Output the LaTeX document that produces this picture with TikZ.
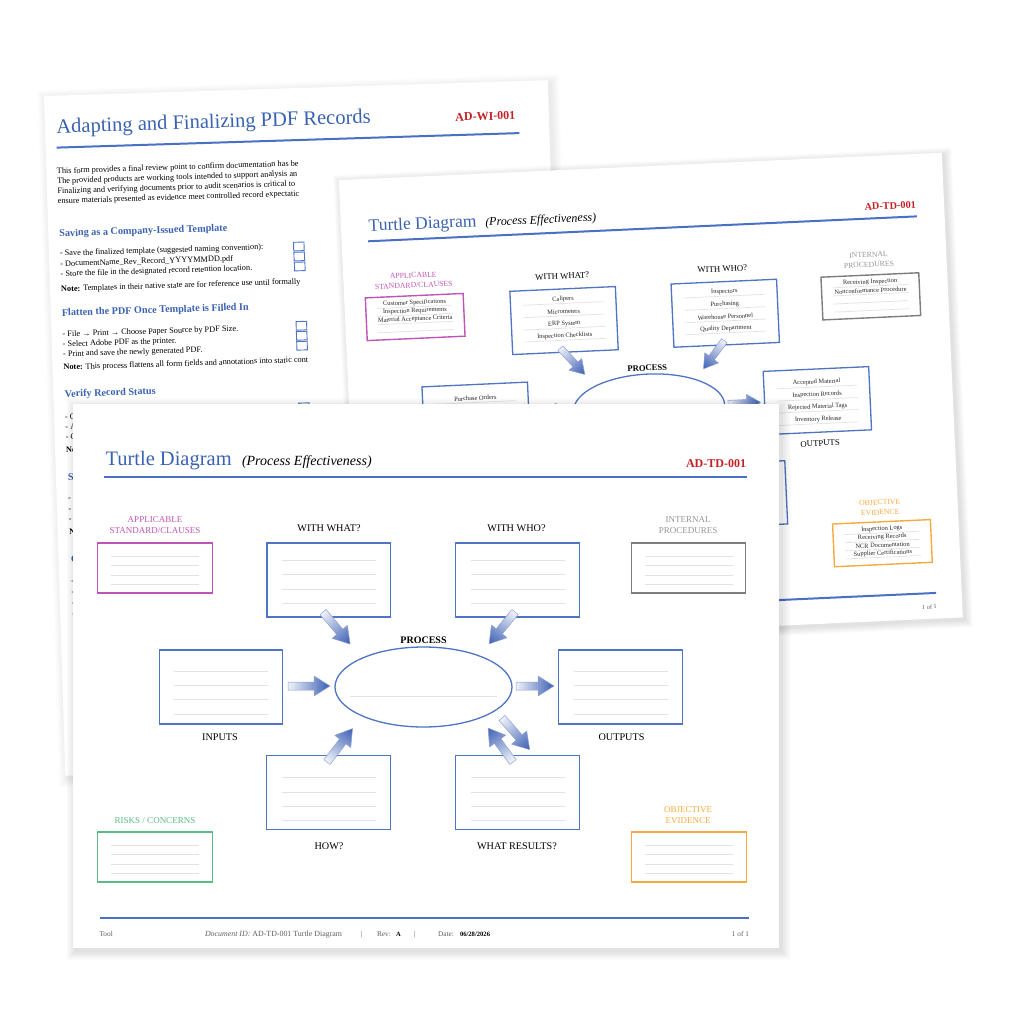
\documentclass[tikz,border=0pt]{standalone}
\usepackage{fontspec}
\setmainfont{Liberation Serif}
\usetikzlibrary{shapes.geometric}
\definecolor{tblue}{RGB}{58,98,178}
\definecolor{rblue}{RGB}{72,112,196}
\definecolor{bblue}{RGB}{78,116,194}
\definecolor{ablue}{RGB}{66,100,182}
\definecolor{mag}{RGB}{192,84,182}
\definecolor{gbox}{RGB}{125,125,125}
\definecolor{glab}{RGB}{150,150,150}
\definecolor{grn}{RGB}{92,186,132}
\definecolor{org}{RGB}{246,170,62}
\definecolor{dred}{RGB}{196,32,38}
\definecolor{lline}{RGB}{226,226,226}
\definecolor{ftxt}{RGB}{95,95,95}
\definecolor{itxt}{RGB}{40,40,40}
\tikzset{
  txt/.style={inner sep=0pt, outer sep=0pt},
  ttl/.style={txt, text=tblue, font=\fontsize{20.5}{24}\selectfont},
  subt/.style={txt, font=\fontsize{14}{16}\selectfont\itshape},
  docid/.style={txt, text=dred, font=\fontsize{12}{14}\selectfont\bfseries},
  lab/.style={txt, font=\fontsize{10.2}{12}\selectfont},
  clab/.style={txt, align=center, font=\fontsize{9}{11.6}\selectfont},
  bbox/.style={draw=bblue, line width=1.3pt, minimum width=123.5pt, minimum height=74pt, inner sep=0pt},
  sbox/.style={draw=#1, line width=1.4pt, minimum width=114.5pt, minimum height=50pt, inner sep=0pt},
  rline/.style={lline, line width=0.7pt},
  item/.style={txt, text=itxt, font=\fontsize{7.5}{9}\selectfont},
  ftr/.style={txt, anchor=base west, text=ftxt, font=\fontsize{7.3}{9}\selectfont},
  wtxt/.style={txt, anchor=base west, font=\fontsize{8.3}{10}\selectfont},
  whead/.style={txt, anchor=base west, text=tblue, font=\fontsize{10.2}{12}\selectfont\bfseries},
  cbox/.style={draw=bblue, line width=0.9pt, minimum width=10.5pt, minimum height=8.6pt, inner sep=0pt},
  pics/fatarrow/.style={code={
    \begin{scope}
      \clip (0,-4) -- (#1-16,-4) -- (#1-16,-10) -- (#1,0) -- (#1-16,10) -- (#1-16,4) -- (0,4) -- cycle;
      \foreach \i in {0,...,23}{
        \pgfmathtruncatemacro\cc{8+92*\i/23}
        \fill[ablue!\cc!white] ({\i*#1/24-0.3},-11) rectangle ({(\i+1)*#1/24+0.3},11);
      }
    \end{scope}
    \draw[ablue!60, line width=0.5pt, line join=round] (0,-4) -- (#1-16,-4) -- (#1-16,-10) -- (#1,0) -- (#1-16,10) -- (#1-16,4) -- (0,4) -- cycle;
  }}
}
\newcommand\pageshadow[5]{%
  \foreach \k in {1,...,10}{
    \fill[black, opacity=#5] (#1-0.9*\k+2.5, #2-0.9*\k+3) rectangle (#3+0.9*\k+2.5, #4+0.9*\k+3);
  }}
\newcommand\hrules[3]{\foreach \yy in {#3}{\draw[rline] (#1,\yy) -- (#2,\yy);}}
% the turtle template, in front-page coordinates; #1 = name prefix
\newcommand\turtlepage[1]{%
  \node[ttl, anchor=base west] (#1title) at (105.5,465.5) {Turtle Diagram};
  \node[subt, anchor=base west] (#1sub) at (242,465.5) {(Process Effectiveness)};
  \node[docid, anchor=base east] (#1id) at (746,467) {AD-TD-001};
  \draw[rblue, line width=2pt] (104,477) -- (746.5,477);
  % labels
  \node[clab, text=mag] (#1appl) at (155,525) {APPLICABLE\\STANDARD/CLAUSES};
  \node[lab] (#1wwl) at (329,528) {WITH WHAT?};
  \node[lab] (#1wol) at (516.5,528) {WITH WHO?};
  \node[clab, text=glab] (#1ipl) at (688,525) {INTERNAL\\PROCEDURES};
  \node[lab, font=\fontsize{10}{12}\selectfont\bfseries] (#1prl) at (423.5,640) {PROCESS};
  \node[lab] (#1inl) at (220,737.5) {INPUTS};
  \node[lab] (#1outl) at (621.5,737) {OUTPUTS};
  \node[lab] (#1howl) at (329,846.5) {HOW?};
  \node[lab] (#1resl) at (517,846.5) {WHAT RESULTS?};
  \node[clab, text=grn] (#1rkl) at (155,821) {RISKS / CONCERNS};
  \node[clab, text=org] (#1oel) at (688,815) {OBJECTIVE\\EVIDENCE};
  % boxes
  \node[sbox=mag] (#1app) at (155,568) {};
  \node[bbox] (#1ww) at (328.75,580) {};
  \node[bbox] (#1wo) at (517.5,580) {};
  \node[sbox=gbox] (#1ip) at (688.5,568) {};
  \node[bbox] (#1in) at (221,687) {};
  \node[draw=bblue, line width=1.3pt, ellipse, minimum width=177pt, minimum height=80pt, inner sep=0pt] (#1pr) at (423.5,687) {};
  \node[bbox] (#1out) at (620.5,687) {};
  \node[bbox] (#1how) at (328.5,792.5) {};
  \node[bbox] (#1res) at (517.5,792.5) {};
  \node[sbox=grn] (#1rk) at (155,857) {};
  \node[sbox=org] (#1oe) at (689,857) {};
  % ruled lines
  \hrules{111}{199}{556,565.5,575,584.5}
  \hrules{281.75}{375.75}{560,574.5,589,603}
  \hrules{470.5}{564.5}{560,574.5,589,603}
  \hrules{644.5}{732.5}{556,565.5,575,584.5}
  \hrules{174}{268}{671,685.5,699.5,714}
  \hrules{573.5}{667.5}{671,685.5,699.5,714}
  \hrules{281.5}{375.5}{777.5,792,806,820.5}
  \hrules{470.5}{564.5}{777.5,792,806,820.5}
  \hrules{111}{199}{845,854.5,864,873.5}
  \hrules{645}{733}{845,854.5,864,873.5}
  \draw[rline] (350,696) -- (497,696);
  % fat arrows
  \pic[rotate=-49.8] at (323,612) {fatarrow=42};
  \pic[rotate=-129.1] at (515,612) {fatarrow=41};
  \pic at (288,686) {fatarrow=42};
  \pic at (516,686) {fatarrow=38};
  \pic[rotate=52.6] at (327,762) {fatarrow=42};
  \pic[rotate=-48.8] at (502,718) {fatarrow=42};
  \pic[rotate=126.3] at (513,762) {fatarrow=42};
  % footer rule
  \draw[rblue, line width=2pt] (99.5,918) -- (749,918);
  \node[ftr, anchor=base east] (#1pg) at (749,936.5) {1 of 1};
}
\begin{document}
\begin{tikzpicture}[x=1pt,y=-1pt]
\useasboundingbox (0,0) rectangle (1024,1024);
\fill[white] (0,0) rectangle (1024,1024);

% ---------------- back page: work instruction ----------------
\begin{scope}[shift={(44,96)}, rotate=1.8, transform shape]
  \pageshadow{0}{0}{504}{680}{0.007}
  \fill[white] (0,0) rectangle (504,680);
  \node[ttl, anchor=base west] (wtitle) at (11.5,37.5) {Adapting and Finalizing PDF Records};
  \node[docid, anchor=base east] (wid) at (470.5,38) {AD-WI-001};
  \draw[rblue, line width=2pt] (11,52) -- (474,52);
  \begin{scope}
    \clip (0,60) rectangle (261,680);
    \node[wtxt] (b1) at (10.5,78) {This form provides a final review point to confirm documentation has be};
    \node[wtxt] (b2) at (10.5,88) {The provided products are working tools intended to support analysis an};
    \node[wtxt] (b3) at (10.5,98) {Finalizing and verifying documents prior to audit scenarios is critical to};
    \node[wtxt] (b4) at (10.5,108) {ensure materials presented as evidence meet controlled record expectatic};
    \node[wtxt] (s1) at (11,160.4) {- Save the finalized template (suggested naming convention):};
    \node[wtxt] (s2) at (11,170.9) {- DocumentName\_Rev\_Record\_YYYYMMDD.pdf};
    \node[wtxt] (s3) at (11,180.9) {- Store the file in the designated record retention location.};
    \node[wtxt] (n1) at (11,196) {\textbf{Note:} Templates in their native state are for reference use until formally};
    \node[wtxt] (f1) at (11,241.2) {- File → Print → Choose Paper Source by PDF Size.};
    \node[wtxt] (f2) at (11,251.2) {- Select Adobe PDF as the printer.};
    \node[wtxt] (f3) at (11,261.2) {- Print and save the newly generated PDF.};
    \node[wtxt] (n2) at (11,274.4) {\textbf{Note:} This process flattens all form fields and annotations into static cont};
    \node[wtxt] (v1) at (11,324) {- C};
    \node[wtxt] (v2) at (11,334) {- A};
    \node[wtxt] (v3) at (11,344) {- C};
    \node[wtxt] (v4) at (11,357.2) {\textbf{No}};
    \node[wtxt] (x1) at (11.5,405.3) {-};
    \node[wtxt] (x2) at (11.5,416) {-};
    \node[wtxt] (x3) at (11.5,426) {-};
    \node[wtxt] (x4) at (11.5,439) {\textbf{N}};
    \node[wtxt] (y1) at (12,488.3) {-};
    \node[wtxt] (y2) at (12,499.3) {-};
    \node[wtxt] (y3) at (12,510) {-};
    \node[wtxt] (y4) at (12,521) {-};
  \end{scope}
  \node[whead] (h1) at (11,141) {Saving as a Company-Issued Template};
  \node[whead] (h2) at (11.1,220.5) {Flatten the PDF Once Template is Filled In};
  \node[whead] (h3) at (11.5,301.8) {Verify Record Status};
  \node[whead] (h4) at (12,385) {S};
  \node[whead] (h5) at (12.5,467.6) {C};
  \node[cbox] (c1) at (250,158.4) {};
  \node[cbox] (c2) at (250.1,168.4) {};
  \node[cbox] (c3) at (250.3,178.4) {};
  \node[cbox] (c4) at (250.1,237.7) {};
  \node[cbox] (c5) at (250.1,247.7) {};
  \node[cbox] (c6) at (250.1,257.7) {};
  \node[cbox] (c7) at (250.1,319.3) {};
\end{scope}

% ---------------- middle page: filled turtle diagram ----------------
\begin{scope}[shift={(368.8,225)}, rotate=2.6, scale=0.855, shift={(-105.7,-458)}, transform shape]
  \pageshadow{73}{404}{779}{948}{0.011}
  \fill[white] (73,404) rectangle (779,948);
  \turtlepage{m}
  \node[item] (m-a1) at (155,551.5) {Customer Specifications};
  \node[item] (m-a2) at (155,561) {Inspection Requirements};
  \node[item] (m-a3) at (155,570.5) {Material Acceptance Criteria};
  \node[item] (m-w1) at (328.75,555) {Calipers};
  \node[item] (m-w2) at (328.75,569.5) {Micrometers};
  \node[item] (m-w3) at (328.75,584) {ERP System};
  \node[item] (m-w4) at (328.75,598) {Inspection Checklists};
  \node[item] (m-o1) at (517.5,555) {Inspectors};
  \node[item] (m-o2) at (517.5,569.5) {Purchasing};
  \node[item] (m-o3) at (517.5,584) {Warehouse Personnel};
  \node[item] (m-o4) at (517.5,598) {Quality Department};
  \node[item] (m-p1) at (688.5,551.5) {Receiving Inspection};
  \node[item] (m-p2) at (688.5,561) {Nonconformance Procedure};
  \node[item] (m-i1) at (221,666) {Purchase Orders};
  \node[item] (m-u1) at (620.5,665.5) {Accepted Material};
  \node[item] (m-u2) at (620.5,680) {Inspection Records};
  \node[item] (m-u3) at (620.5,694.5) {Rejected Material Tags};
  \node[item] (m-u4) at (620.5,709) {Inventory Release};
  \node[item] (m-e1) at (689,840.5) {Inspection Logs};
  \node[item] (m-e2) at (689,850) {Receiving Records};
  \node[item] (m-e3) at (689,859.5) {NCR Documentation};
  \node[item] (m-e4) at (689,869) {Supplier Certifications};
\end{scope}

% ---------------- front page: blank turtle diagram ----------------
\pageshadow{73}{404}{779}{948}{0.011}
\fill[white] (73,404) rectangle (779,948);
\turtlepage{f}
\node[ftr] (ftool) at (99.5,936.5) {Tool};
\node[ftr, font=\fontsize{7.9}{9}\selectfont] (fdoc) at (205,936.5) {\textit{Document ID:} AD-TD-001 Turtle Diagram};
\node[ftr] (fbar1) at (361,936.5) {|};
\node[ftr] (frev) at (377,936.5) {Rev:};
\node[ftr, text=black, font=\fontsize{6.5}{8}\selectfont\bfseries] (frevv) at (396,936.5) {A};
\node[ftr] (fbar2) at (414,936.5) {|};
\node[ftr] (fdate) at (438,936.5) {Date:};
\node[ftr, text=black, font=\fontsize{6.6}{8}\selectfont\bfseries] (fdatev) at (460,936.5) {06/28/2026};
\end{tikzpicture}
\end{document}
